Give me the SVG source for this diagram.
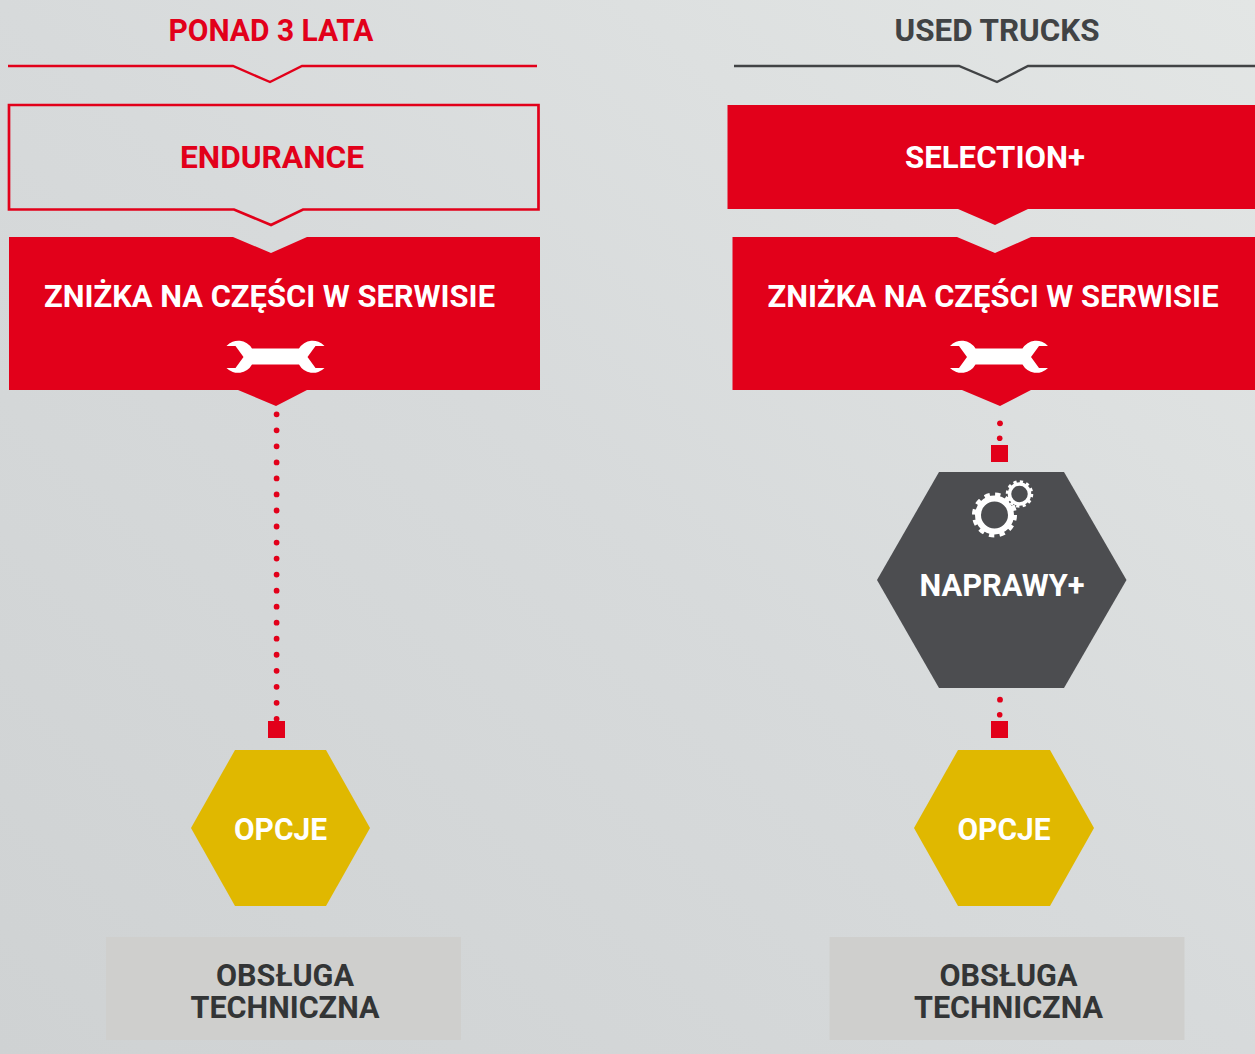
<svg xmlns="http://www.w3.org/2000/svg" width="1255" height="1054" viewBox="0 0 1255 1054">
<defs>
<linearGradient id="bg" x1="0" y1="1" x2="1" y2="0"><stop offset="0" stop-color="#cfd2d3"/><stop offset="0.5" stop-color="#d7dadb"/><stop offset="1" stop-color="#e3e6e5"/></linearGradient>
<path id="wrench" d="M226.500 346A16 16 0 0 1 252 348.500H299A16 16 0 0 1 324.500 346H315.500L307.500 357L315.500 368H324.500A16 16 0 0 1 299 364.500H252A16 16 0 0 1 226.500 368H235.500L243.500 357L235.500 346Z"/>
</defs>
<style>
text{font-family:"Roboto","Liberation Sans",sans-serif;font-weight:700;text-anchor:middle;font-size:31.500px}
.w{fill:#fff}.r{fill:#e2001a}.d{fill:#333536}.g{fill:#4c4d50}
.rl{fill:none;stroke:#e2001a;stroke-width:2.400}
.dot{fill:#e2001a}
.dots{fill:none;stroke:#e2001a;stroke-width:5.800;stroke-linecap:round;stroke-dasharray:0 16.030}
</style>
<rect width="1255" height="1054" fill="url(#bg)"/>
<g id="connectors">
<path class="dots" d="M276.600 414.300V720"/>
<rect class="r" x="268" y="721" width="17" height="17"/>
<circle class="dot" cx="1000" cy="423.300" r="2.900"/>
<circle class="dot" cx="999.700" cy="438.300" r="2.800"/>
<rect class="r" x="991" y="445" width="17" height="17"/>
<circle class="dot" cx="1000" cy="699.700" r="2.900"/>
<circle class="dot" cx="999.700" cy="714.700" r="2.800"/>
<rect class="r" x="991" y="721" width="17" height="17"/>
</g>
<g id="head-left"><text class="r" x="271" y="41" textLength="205" lengthAdjust="spacingAndGlyphs">PONAD 3 LATA</text>
<path class="rl" d="M8 66H233L270 82L302 66H537"/></g>
<g id="head-right"><text x="997" y="41" textLength="205" lengthAdjust="spacingAndGlyphs" style="fill:#414345">USED TRUCKS</text>
<path fill="none" stroke="#414345" stroke-width="2.400" d="M734 66H959L997 82L1028 66H1255"/></g>
<g id="endurance"><path class="rl" style="stroke-width:2.700" d="M9 105H538.500V209.500H303L271 225L234 209.500H9Z"/>
<text class="r" x="272" y="168" textLength="184" lengthAdjust="spacingAndGlyphs">ENDURANCE</text></g>
<g id="selection"><path class="r" d="M727.500 105H1255V209H1028L995 225L958 209H727.500Z"/>
<text class="w" x="995" y="168" textLength="180" lengthAdjust="spacingAndGlyphs">SELECTION+</text></g>
<g id="znizka-left"><path class="r" d="M9 237H233L271 253L307 237H540V390H307L276 406L238 390H9Z"/>
<text class="w" x="269.500" y="307" textLength="451" lengthAdjust="spacingAndGlyphs">ZNIŻKA NA CZĘŚCI W SERWISIE</text>
<use href="#wrench" class="w"/></g>
<g id="znizka-right"><path class="r" d="M732.500 237H957L995 253L1031 237H1255V390H1031L1000 406L962 390H732.500Z"/>
<text class="w" x="993" y="307" textLength="451" lengthAdjust="spacingAndGlyphs">ZNIŻKA NA CZĘŚCI W SERWISIE</text>
<use href="#wrench" class="w" x="723.500"/></g>
<g id="naprawy"><path class="g" d="M939 472H1064L1126.500 580L1064 688H939L877 580Z"/>
<circle cx="994.500" cy="515" r="16.500" fill="none" stroke="#fff" stroke-width="6"/>
<circle cx="994.500" cy="515" r="19.500" fill="none" stroke="#fff" stroke-width="6" stroke-dasharray="5.100 5.110"/>
<circle cx="1019.500" cy="494" r="10" fill="none" stroke="#fff" stroke-width="3.500"/>
<circle cx="1019.500" cy="494" r="12" fill="none" stroke="#fff" stroke-width="3.500" stroke-dasharray="3.100 3.180"/>
<text class="w" x="1002" y="596" textLength="165" lengthAdjust="spacingAndGlyphs">NAPRAWY+</text></g>
<g id="opcje-left"><path d="M235 750H326L370 828L326 906H235L191 828Z" fill="#e0b800"/>
<text class="w" x="280.500" y="840" textLength="93" lengthAdjust="spacingAndGlyphs">OPCJE</text></g>
<g id="opcje-right"><path d="M958 750H1050L1094 828L1050 906H958L914 828Z" fill="#e0b800"/>
<text class="w" x="1004" y="840" textLength="93" lengthAdjust="spacingAndGlyphs">OPCJE</text></g>
<g id="obsluga-left"><rect x="106" y="937" width="355" height="103" fill="#cfcfcd"/>
<text class="d" x="285" y="986" textLength="138" lengthAdjust="spacingAndGlyphs">OBSŁUGA</text>
<text class="d" x="285" y="1018" textLength="189" lengthAdjust="spacingAndGlyphs">TECHNICZNA</text></g>
<g id="obsluga-right"><rect x="829.500" y="937" width="355" height="103" fill="#cfcfcd"/>
<text class="d" x="1008.500" y="986" textLength="138" lengthAdjust="spacingAndGlyphs">OBSŁUGA</text>
<text class="d" x="1008.500" y="1018" textLength="189" lengthAdjust="spacingAndGlyphs">TECHNICZNA</text></g>
</svg>
